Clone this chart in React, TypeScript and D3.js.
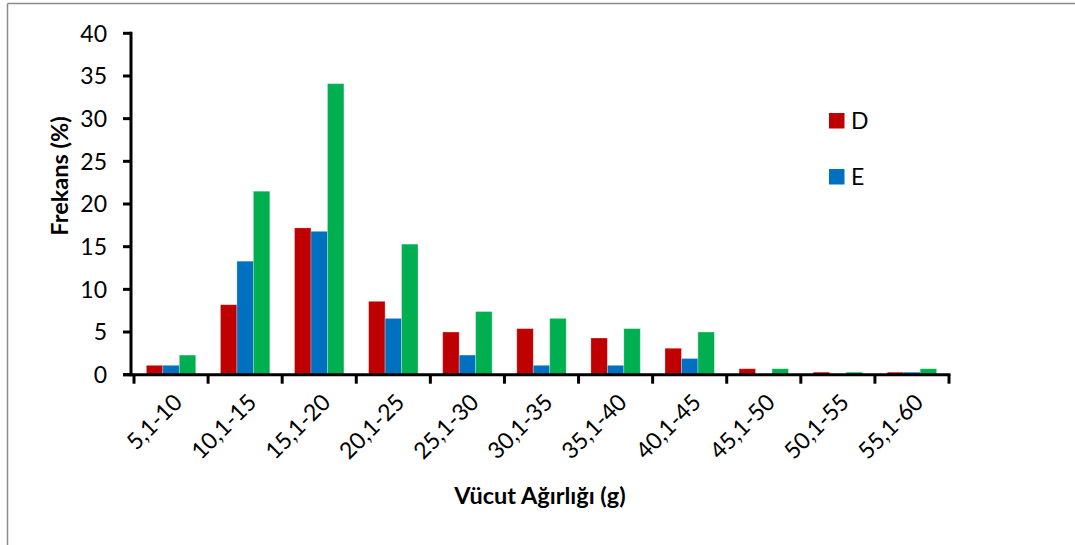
import React from "react";
import * as d3 from "d3";

const categories = ["5,1-10", "10,1-15", "15,1-20", "20,1-25", "25,1-30", "30,1-35", "35,1-40", "40,1-45", "45,1-50", "50,1-55", "55,1-60"];
const seriesNames = ["D", "E", "F"];
const seriesD = [1.1, 8.2, 17.2, 8.6, 5.0, 5.4, 4.3, 3.1, 0.7, 0.3, 0.3];
const seriesE = [1.1, 13.3, 16.8, 6.6, 2.3, 1.1, 1.1, 1.9, 0, 0, 0.3];
const seriesF = [2.3, 21.5, 34.1, 15.3, 7.4, 6.6, 5.4, 5.0, 0.7, 0.3, 0.7];
const seriesColors = ["#C00000", "#0070C0", "#00B050"];
const legendNames = ["D", "E"];
const yTicks = [0, 5, 10, 15, 20, 25, 30, 35, 40];

const W = 1075;
const H = 545;
const FONT = "Lato, 'Open Sans', sans-serif";

export default function App() {
  const values = [seriesD, seriesE, seriesF];
  const left = 131;
  const right = 949;
  const top = 33.3;
  const bottom = 374.7;

  const x = d3.scaleBand<string>().domain(categories).range([left + 3, right]).padding(0);
  const inner = d3
    .scaleBand<string>()
    .domain(seriesNames)
    .range([0, x.bandwidth()])
    .paddingInner(0)
    .paddingOuter(0.75);
  const y = d3.scaleLinear().domain([0, 40]).range([bottom, top]);

  const bandEdges = categories.map((c) => x(c) as number).concat([right]);

  return (
    <svg
      width={W}
      height={H}
      style={{ position: "absolute", left: 0, top: 0, background: "#fff" }}
      fontFamily={FONT}
    >
      <rect x={0} y={0} width={W} height={H} fill="#fff" />
      {/* border */}
      <line x1={7.5} y1={3.5} x2={W} y2={3.5} stroke="#8c8c8c" strokeWidth={1.5} />
      <line x1={7.5} y1={3.5} x2={7.5} y2={H} stroke="#8c8c8c" strokeWidth={1.5} />

      {/* bars */}
      {values.map((vals, si) =>
        categories.map((c, ci) => {
          const v = vals[ci];
          if (v <= 0) return null;
          const bx = (x(c) as number) + (inner(seriesNames[si]) as number);
          const by = y(v);
          return (
            <rect
              key={`${si}-${ci}`}
              x={bx}
              y={by}
              width={inner.bandwidth()}
              height={bottom - by}
              fill={seriesColors[si]}
              stroke="rgba(255,255,255,0.35)"
              strokeWidth={0.8}
            />
          );
        })
      )}

      {/* y axis */}
      <line x1={left} y1={top - 1.5} x2={left} y2={bottom + 1.5} stroke="#000" strokeWidth={3} />
      {yTicks.map((t) => (
        <g key={t}>
          <line x1={left - 8} y1={y(t)} x2={left} y2={y(t)} stroke="#000" strokeWidth={3} />
          <text
            x={107}
            y={y(t)}
            dy="0.36em"
            textAnchor="end"
            fontSize={23}
            fill="#000"
          >
            {t}
          </text>
        </g>
      ))}

      {/* x axis */}
      <line x1={left - 8} y1={bottom} x2={right + 1.5} y2={bottom} stroke="#000" strokeWidth={3} />
      {bandEdges.map((e, i) => (
        <line key={i} x1={e} y1={bottom} x2={e} y2={bottom + 9} stroke="#000" strokeWidth={3} />
      ))}
      {categories.map((c) => {
        const cx = (x(c) as number) + x.bandwidth() / 2 + 7;
        const cy = 398;
        return (
          <text
            key={c}
            x={cx}
            y={cy}
            textAnchor="end"
            fontSize={23}
            dy="0.35em"
            transform={`rotate(-45 ${cx} ${cy})`}
            fill="#000"
          >
            {c}
          </text>
        );
      })}

      {/* axis titles */}
      <text x={(left + right) / 2} y={504} textAnchor="middle" fontSize={23.5} fontWeight="bold" fill="#000">
        Vücut Ağırlığı (g)
      </text>
      <text
        x={0}
        y={0}
        transform={`translate(68 ${176}) rotate(-90)`}
        textAnchor="middle"
        fontSize={23.5}
        fontWeight="bold"
        fill="#000"
      >
        Frekans (%)
      </text>

      {/* legend */}
      {legendNames.map((n, i) => (
        <g key={n}>
          <rect x={829} y={113 + i * 56} width={15.5} height={15.5} fill={seriesColors[i]} />
          <text x={851} y={128.5 + i * 56} fontSize={23} fill="#000">
            {n}
          </text>
        </g>
      ))}
    </svg>
  );
}
